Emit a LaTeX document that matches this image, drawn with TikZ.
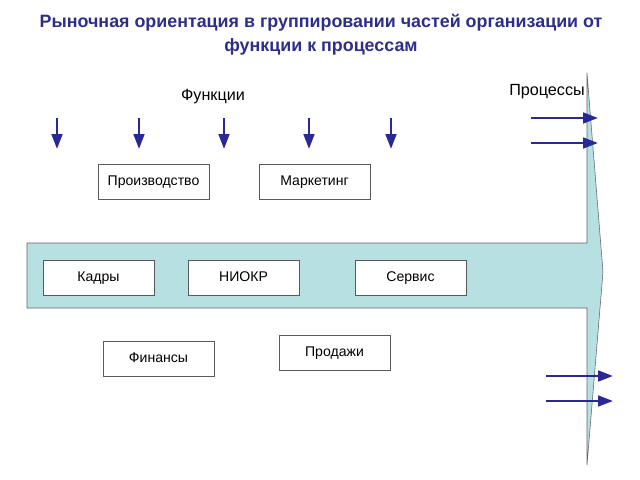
\documentclass[tikz,border=0pt]{standalone}
\usepackage{fontspec}
\setmainfont{Liberation Sans}
\usetikzlibrary{arrows.meta}
\definecolor{titleblue}{RGB}{45,45,140}
\definecolor{arrowblue}{RGB}{40,40,150}
\definecolor{bandfill}{RGB}{183,224,226}
\begin{document}
\begin{tikzpicture}[x=0.025cm,y=-0.025cm,
    unit box/.style={rectangle,draw=black!65,fill=white,minimum width=2.775cm,minimum height=0.875cm,text height=7.5pt,text depth=2pt,font=\fontsize{10}{12}\selectfont},
    flow arrow/.style={arrowblue,line width=1.8pt,-{Triangle[length=10.5pt,width=7.5pt]}}]
    \useasboundingbox (0,0) rectangle (640,480);

    \node[titleblue,font=\bfseries\fontsize{12.7}{17}\selectfont,align=center] at (321,35) (title)
        {Рыночная ориентация в группировании частей организации от\\функции к процессам};

    % process band
    \draw[black!60,fill=bandfill] (27,243) -- (587,243) -- (587,73) -- (603,272) -- (587,465) -- (587,308) -- (27,308) -- cycle;

    \node[font=\fontsize{11.5}{14}\selectfont] at (213,97) (func) {Функции};
    \node[font=\fontsize{11.5}{14}\selectfont] at (547,92) (proc) {Процессы};

    \node[unit box] at (153.5,182) (prod) {Производство};
    \node[unit box] at (314.5,182) (mark) {Маркетинг};
    \node[unit box] at (98.5,277.5) (kadr) {Кадры};
    \node[unit box] at (243.5,277.5) (niokr) {НИОКР};
    \node[unit box] at (410.5,277.5) (serv) {Сервис};
    \node[unit box] at (158.5,358.5) (fin) {Финансы};
    \node[unit box] at (334.5,353) (sales) {Продажи};

    % function arrows
    \foreach \i/\x in {1/57,2/139,3/224,4/309,5/391} {
        \coordinate (f\i a) at (\x,118);
        \coordinate (f\i b) at (\x,149);
        \draw[flow arrow] (f\i a) -- (f\i b);
    }

    % process arrows
    \foreach \i/\x/\y in {1/531/118,2/531/143,3/546/376,4/546/401} {
        \coordinate (p\i a) at (\x,\y);
        \coordinate (p\i b) at (\x+67,\y);
        \draw[flow arrow] (p\i a) -- (p\i b);
    }
\end{tikzpicture}
\end{document}
